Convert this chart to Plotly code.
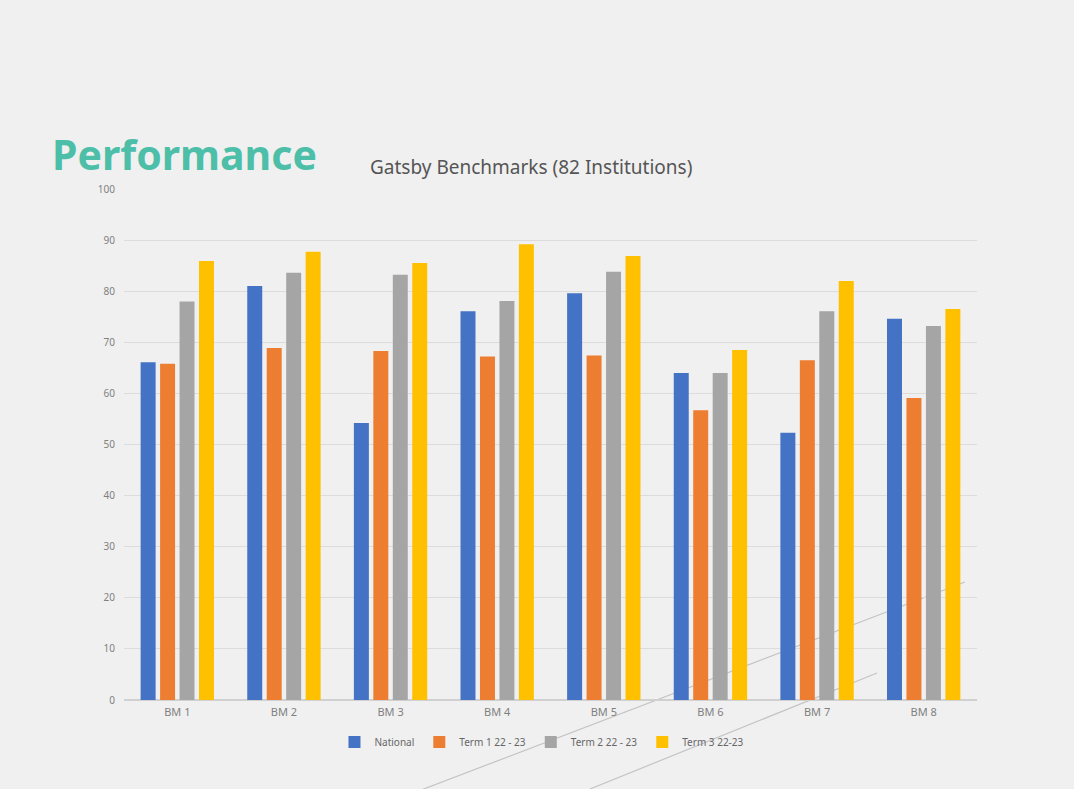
import plotly.graph_objects as go

categories = ["BM 1", "BM 2", "BM 3", "BM 4", "BM 5", "BM 6", "BM 7", "BM 8"]
national = [66.1, 81.0, 54.2, 76.1, 79.6, 64.0, 52.3, 74.6]
term1 = [65.8, 68.9, 68.3, 67.2, 67.4, 56.7, 66.5, 59.1]
term2 = [78.0, 83.6, 83.2, 78.1, 83.8, 64.0, 76.1, 73.2]
term3 = [85.9, 87.7, 85.5, 89.2, 86.9, 68.5, 82.0, 76.5]
series_names = ["National", "Term 1 22 - 23", "Term 2 22 - 23", "Term 3 22-23"]
colors = ["#4472C4", "#ED7D31", "#A5A5A5", "#FFC000"]
y_ticks = [0, 10, 20, 30, 40, 50, 60, 70, 80, 90, 100]

W, H = 1074, 789
L, R, T, B = 124, 97, 189, 89
pw, ph = W - L - R, H - T - B

def px(x):
    return (x - L) / pw

def py(y):
    return (H - B - y) / ph

fig = go.Figure()
for name, vals, c in zip(series_names, [national, term1, term2, term3], colors):
    fig.add_trace(go.Bar(x=categories, y=vals, name=name, marker=dict(color=c, line=dict(width=0))))

# decorative diagonal lines in background
shapes = [
    dict(type="line", xref="paper", yref="paper", x0=px(395), y0=py(800), x1=px(965), y1=py(582),
         line=dict(color="#c4c4c4", width=1.2), layer="below"),
    dict(type="line", xref="paper", yref="paper", x0=px(590), y0=py(789), x1=px(877), y1=py(673),
         line=dict(color="#c4c4c4", width=1.2), layer="below"),
]

fig.update_layout(
    width=W, height=H,
    margin=dict(l=L, r=R, t=T, b=B),
    paper_bgcolor="#f0f0f0", plot_bgcolor="#f0f0f0",
    barmode="group", bargap=0.27, bargroupgap=0.23,
    font=dict(family="Noto Sans", color="#777777", size=10),
    showlegend=True,
    legend=dict(orientation="h", x=0.49, xanchor="center", y=py(742), yanchor="middle",
                font=dict(size=10, color="#666666"), itemwidth=30, bgcolor="rgba(0,0,0,0)"),
    shapes=shapes,
    annotations=[
        dict(text="<b>Performance</b>", xref="paper", yref="paper", x=px(50), y=py(184),
             xanchor="left", yanchor="bottom", showarrow=False,
             font=dict(family="Noto Sans", size=41, color="#4dbfa9")),
        dict(text="Gatsby Benchmarks (82 Institutions)", xref="paper", yref="paper", x=px(368), y=py(167),
             xanchor="left", yanchor="middle", showarrow=False,
             font=dict(family="Noto Sans", size=19, color="#555555")),
    ],
)
fig.update_yaxes(range=[0, 100], tickvals=y_ticks, showgrid=True, gridcolor="#dcdcdc", gridwidth=1,
                 zeroline=True, zerolinecolor="#d0d0d0", showline=False, ticks="",
                 tickfont=dict(size=10, color="#808080"), ticklabelstandoff=8)
fig.update_xaxes(showgrid=False, showline=False, ticks="", tickfont=dict(size=11, color="#808080"),
                 ticklabelstandoff=4)

fig.write_html("out.html")
